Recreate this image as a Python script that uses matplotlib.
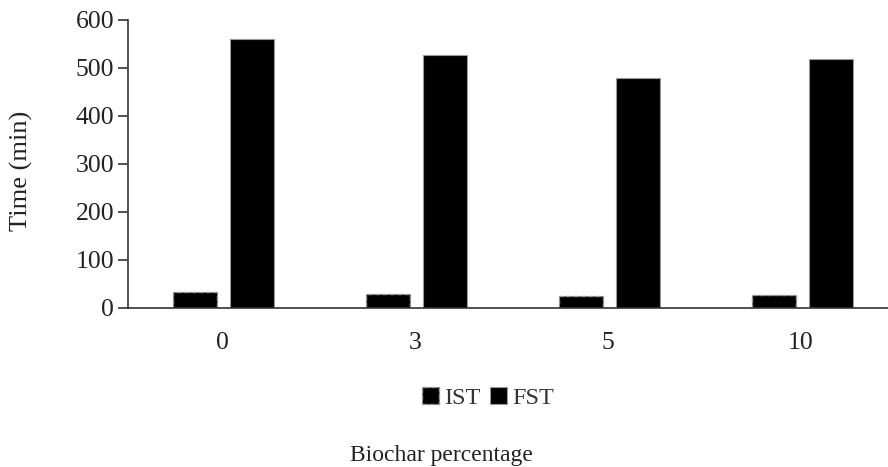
import matplotlib
matplotlib.use('Agg')
import matplotlib.pyplot as plt
import numpy as np

plt.rcParams['font.family'] = ['Liberation Serif', 'DejaVu Serif']

categories = ['0', '3', '5', '10']
ist = [33, 29, 25, 27]
fst = [560, 527, 479, 519]
series_labels = ['IST', 'FST']

fig = plt.figure(figsize=(8.88, 4.67), dpi=100)
W, H = 888, 467
ax = fig.add_axes([128 / W, (H - 308) / H, 760 / W, 288 / H])

x = np.arange(len(categories))
w = 0.228
ax.bar(x - 0.14, ist, w, color='black', edgecolor='#9a9a9a',
       linestyle='--', linewidth=1.0, label=series_labels[0])
ax.bar(x + 0.155, fst, w, color='black', edgecolor='#9a9a9a',
       linewidth=0.8, label=series_labels[1])

ax.set_xlim(-0.487, 3.451)
ax.set_ylim(0, 600)
ax.set_yticks(range(0, 601, 100))
ax.set_xticks(x)
ax.set_xticklabels(categories)

for s in ['top', 'right']:
    ax.spines[s].set_visible(False)
ax.spines['left'].set_linewidth(1.2)
ax.spines['bottom'].set_linewidth(1.2)
ax.spines['bottom'].set_color('#333333')
ax.spines['left'].set_color('#333333')

ax.tick_params(axis='y', length=7, width=1.2, labelsize=18.5, pad=3,
               color='#333333', labelcolor='#222222')
ax.tick_params(axis='x', length=0, labelsize=18.5, pad=17, labelcolor='#222222')
ax.set_ylabel('Time (min)', fontsize=19, color='#222222')
ax.yaxis.set_label_coords((33 - 128) / 760, (308 - 171) / 288)

fig.legend(loc='center', bbox_to_anchor=(488 / W, 1 - 398 / H), ncol=2,
           frameon=False, fontsize=17.5, handlelength=0.7, handleheight=0.7,
           handletextpad=0.2, columnspacing=0.4, labelcolor='#333333')
fig.text(441 / W, 1 - 455 / H, 'Biochar percentage', ha='center', va='center',
         fontsize=17, color='#222222')

fig.savefig('out.png', dpi=100)
